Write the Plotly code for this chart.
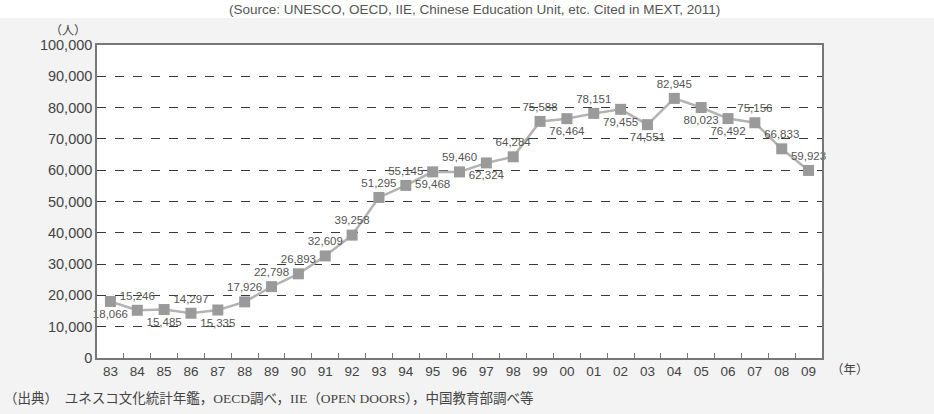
import plotly.graph_objects as go

years = ["83", "84", "85", "86", "87", "88", "89", "90", "91", "92", "93", "94", "95",
         "96", "97", "98", "99", "00", "01", "02", "03", "04", "05", "06", "07", "08", "09"]
students = [18066, 15246, 15485, 14297, 15335, 17926, 22798, 26893, 32609, 39258, 51295,
            55145, 59468, 59460, 62324, 64284, 75588, 76464, 78151, 79455, 74551, 82945,
            80023, 76492, 75156, 66833, 59923]
label_pos = ["bottom center", "top center", "bottom center", "top center", "bottom center",
             "top center", "top center", "top center", "top center", "top center", "top center",
             "top center", "bottom center", "top center", "bottom center", "top center",
             "top center", "bottom center", "top center", "bottom center", "bottom center",
             "top center", "bottom center", "bottom center", "top center", "top center",
             "top center"]
y_ticks = list(range(0, 100001, 10000))

fig = go.Figure()
fig.add_trace(go.Scatter(
    x=years, y=students, mode="lines+markers+text",
    line=dict(color="#b3b3b3", width=2.5),
    marker=dict(symbol="square", size=11, color="#9a9a9a"),
    text=[f"{v:,}" for v in students],
    textposition=label_pos,
    textfont=dict(family="Liberation Sans Narrow, Arial Narrow, Liberation Sans, sans-serif",
                  size=11.5, color="#555555"),
    cliponaxis=False,
    showlegend=False,
))

fig.update_layout(
    width=934, height=414,
    margin=dict(l=97, r=112, t=45, b=56),
    paper_bgcolor="#f3f3f3",
    plot_bgcolor="#ffffff",
    font=dict(family="Liberation Sans, Arial, sans-serif", color="#444444"),
    xaxis=dict(
        type="category", range=[-0.5, len(years) - 0.5], showgrid=False,
        tickson="boundaries", ticks="inside",
        ticklen=5, tickcolor="#777777", showline=True, linecolor="#777777", linewidth=1.5,
        mirror=True, tickfont=dict(size=13.5, color="#444444"), fixedrange=True,
    ),
    yaxis=dict(
        range=[0, 100000], tickvals=y_ticks, tickformat=",", showgrid=True,
        gridcolor="#3a3a3a", griddash="dash", gridwidth=1, zeroline=False,
        showline=True, linecolor="#777777", linewidth=1.5, mirror=True,
        ticks="", tickfont=dict(size=14.5, color="#444444"),
    ),
    shapes=[dict(type="rect", xref="paper", yref="paper", x0=-0.2, x1=1.2,
                 y0=1 + 27 / 313, y1=1.3, fillcolor="#ffffff", line=dict(width=0),
                 layer="below")],
    annotations=[
        dict(text="(Source: UNESCO, OECD, IIE, Chinese Education Unit, etc. Cited in MEXT, 2011)",
             xref="paper", yref="paper", x=(475 - 97) / 725, y=1 + (45 - 0) / 313,
             xanchor="center", yanchor="top", showarrow=False,
             font=dict(size=13.5, color="#555555")),
        dict(text="（人）", xref="paper", yref="paper", x=(68 - 97) / 725, y=1 + (45 - 29) / 313,
             xanchor="center", yanchor="middle", showarrow=False,
             font=dict(family="Noto Sans CJK JP", size=12, color="#444444")),
        dict(text="（年）", xref="paper", yref="paper", x=(850 - 97) / 725, y=-(368 - 358) / 313,
             xanchor="center", yanchor="middle", showarrow=False,
             font=dict(family="Noto Sans CJK JP", size=12.5, color="#444444")),
        dict(text="（出典）　ユネスコ文化統計年鑑，OECD調べ，IIE（OPEN DOORS），中国教育部調べ等",
             xref="paper", yref="paper", x=(2 - 97) / 725, y=-(398 - 358) / 313,
             xanchor="left", yanchor="middle", showarrow=False,
             font=dict(family="Liberation Serif, Noto Sans CJK JP", size=13.5, color="#444444")),
    ],
)

fig.write_html("out.html")
